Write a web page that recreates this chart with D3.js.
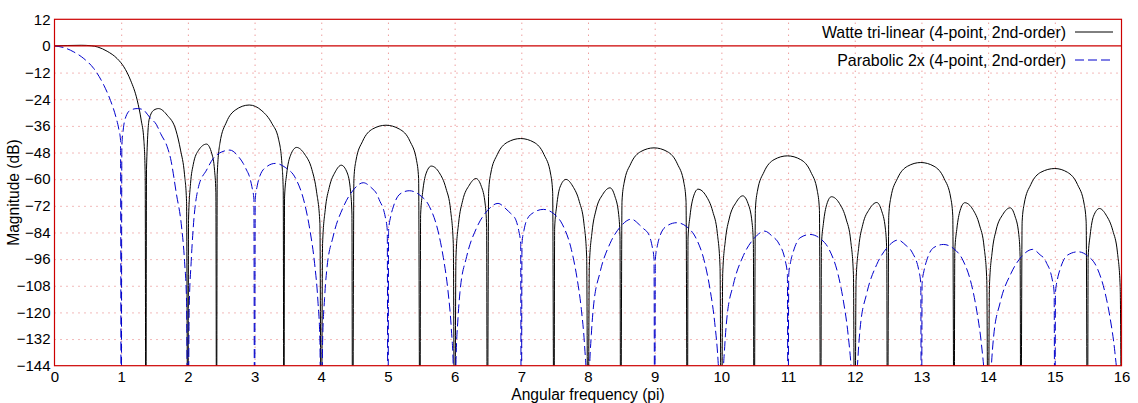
<!DOCTYPE html>
<html>
<head>
<meta charset="utf-8">
<script src="https://cdn.jsdelivr.net/npm/d3@7"></script>
<style>
  body { margin: 0; background: #fff; }
  svg { display: block; font-family: "Liberation Sans", Arial, sans-serif; }
</style>
</head>
<body>
<div id="chart"></div>
<script>
const xTicks = [0, 1, 2, 3, 4, 5, 6, 7, 8, 9, 10, 11, 12, 13, 14, 15, 16];
const yTicks = [12, 0, -12, -24, -36, -48, -60, -72, -84, -96, -108, -120, -132, -144];
const seriesNames = ["Watte tri-linear (4-point, 2nd-order)", "Parabolic 2x (4-point, 2nd-order)"];

// [angular frequency (pi), magnitude (dB)], -200 = null below the axis
const watte = [
  [0, 0], [0.2, 0.2], [0.4, 0.3], [0.55, 0.1], [0.65, -0.5], [0.79, -2.4], [0.94, -5.7], [1.04, -9.4],
  [1.14, -15.4], [1.24, -24.4], [1.3, -33.4], [1.34, -42.4], [1.36, -58], [1.37, -200],
  [1.38, -55], [1.42, -33], [1.49, -28.9], [1.56, -28.2], [1.69, -31.2], [1.82, -37.9], [1.89, -46.9], [1.95, -58], [1.98, -70], [2.0, -200],
  [2.01, -78], [2.04, -62], [2.08, -53.5], [2.16, -47], [2.28, -44.2], [2.36, -48.6], [2.4, -56], [2.42, -66], [2.43, -200],
  [2.44, -58], [2.48, -43.9], [2.58, -34.2], [2.71, -28.9], [2.92, -26.6], [3.11, -29.2], [3.26, -34.9], [3.36, -42], [3.41, -53], [3.43, -65], [3.44, -200],
  [3.45, -68], [3.48, -58], [3.54, -49.2], [3.63, -45.7], [3.75, -48.7], [3.86, -55.7], [3.93, -65.7], [3.98, -80], [4.0, -200],
  [4.02, -89], [4.06, -73.7], [4.12, -63.7], [4.21, -56.7], [4.3, -53.7], [4.39, -57.2], [4.44, -65.7], [4.46, -75.7], [4.47, -200],
  [4.49, -59.7], [4.52, -51.7], [4.62, -42.9], [4.77, -37.4], [4.97, -35.7], [5.17, -37.4], [5.33, -42.9], [5.43, -51.7], [5.46, -59.7], [5.48, -200],
  [5.49, -76], [5.52, -66], [5.57, -57.6], [5.65, -54.1], [5.77, -57.1], [5.87, -64.1], [5.94, -74.1], [5.98, -89], [6.0, -200],
  [6.02, -95], [6.06, -79.7], [6.12, -69.7], [6.22, -62.7], [6.32, -59.7], [6.4, -63.2], [6.46, -71.7], [6.48, -81.7], [6.49, -200],
  [6.51, -65.7], [6.54, -57.7], [6.64, -48.9], [6.79, -43.4], [6.99, -41.7], [7.19, -43.4], [7.34, -48.9], [7.44, -57.7], [7.47, -65.7], [7.49, -200],
  [7.5, -82], [7.53, -72.1], [7.58, -63.6], [7.67, -60.1], [7.77, -63.1], [7.87, -70.1], [7.94, -80.1], [7.98, -95], [8.0, -200],
  [8.02, -99], [8.06, -83.9], [8.12, -73.9], [8.22, -66.9], [8.33, -63.9], [8.4, -67.4], [8.46, -75.9], [8.48, -85.9], [8.49, -200],
  [8.51, -69.9], [8.54, -61.9], [8.64, -53.1], [8.79, -47.6], [8.99, -45.9], [9.19, -47.6], [9.34, -53.1], [9.44, -61.9], [9.47, -69.9], [9.49, -200],
  [9.5, -86.5], [9.53, -76.5], [9.58, -68], [9.65, -64.5], [9.77, -67.5], [9.87, -74.5], [9.94, -84.5], [9.98, -99.5], [10.0, -200],
  [10.02, -102.5], [10.06, -87.5], [10.12, -77.5], [10.22, -70.5], [10.32, -67.5], [10.4, -71], [10.46, -79.5], [10.48, -89.5], [10.49, -200],
  [10.51, -73.5], [10.54, -65.5], [10.64, -56.7], [10.79, -51.2], [10.99, -49.5], [11.19, -51.2], [11.34, -56.7], [11.44, -65.5], [11.47, -73.5], [11.49, -200],
  [11.5, -89.9], [11.53, -79.9], [11.58, -71.4], [11.65, -67.9], [11.77, -70.9], [11.87, -77.9], [11.94, -87.9], [11.98, -102.9], [12.0, -200],
  [12.02, -105.5], [12.06, -90.5], [12.12, -80.5], [12.22, -73.5], [12.33, -70.5], [12.4, -74], [12.46, -82.5], [12.48, -92.5], [12.49, -200],
  [12.51, -76.5], [12.54, -68.5], [12.64, -59.7], [12.79, -54.2], [12.99, -52.5], [13.19, -54.2], [13.34, -59.7], [13.44, -68.5], [13.47, -76.5], [13.49, -200],
  [13.5, -92.6], [13.53, -82.6], [13.58, -74.1], [13.65, -70.6], [13.77, -73.6], [13.87, -80.6], [13.94, -90.6], [13.98, -105.6], [14.0, -200],
  [14.02, -107.9], [14.06, -92.9], [14.12, -82.9], [14.22, -75.9], [14.33, -72.9], [14.4, -76.4], [14.46, -84.9], [14.48, -94.9], [14.49, -200],
  [14.51, -79.2], [14.54, -71.2], [14.64, -62.4], [14.79, -56.9], [15.0, -55.2], [15.19, -56.9], [15.34, -62.4], [15.44, -71.2], [15.47, -79.2], [15.49, -200],
  [15.5, -95.2], [15.53, -85.2], [15.58, -76.7], [15.67, -73.2], [15.77, -76.2], [15.87, -83.2], [15.94, -93.2], [15.98, -108.2], [16.0, -200]
];

const parabolic = [
  [0, 0], [0.14, -0.75], [0.29, -2.7], [0.44, -5.7], [0.59, -10.2], [0.74, -17.7], [0.84, -24.6], [0.92, -31.9], [0.967, -37.9], [0.99, -42.4], [1.0, -200],
  [1.01, -45], [1.03, -37.9], [1.07, -31.9], [1.14, -28.9], [1.24, -28.2], [1.32, -28.6], [1.44, -32.6], [1.53, -35.5], [1.59, -39.4], [1.69, -45.4], [1.74, -50.6], [1.83, -67], [1.9, -80], [1.95, -97], [1.98, -115], [2.0, -200],
  [2.02, -118], [2.05, -97], [2.08, -82], [2.16, -63.4], [2.28, -55.9], [2.38, -50.7], [2.51, -47.7], [2.63, -46.9], [2.76, -49.9], [2.83, -52.9], [2.88, -55.9], [2.92, -58.5], [2.96, -63.4], [2.99, -69], [3.0, -200],
  [3.01, -69], [3.04, -63], [3.08, -58.5], [3.18, -54.4], [3.31, -52.9], [3.46, -54.7], [3.62, -59.9], [3.75, -70.9], [3.83, -82.9], [3.9, -97.9], [3.95, -114.9], [3.98, -132.9], [4.0, -200],
  [4.02, -133.6], [4.05, -113.6], [4.08, -101.6], [4.18, -85.6], [4.33, -72.6], [4.48, -64.9], [4.63, -61.6], [4.76, -64.1], [4.83, -66.5], [4.88, -70], [4.92, -72.5], [4.96, -77], [4.99, -83], [5.0, -200],
  [5.01, -83], [5.04, -77], [5.08, -72.5], [5.18, -66.7], [5.32, -65.2], [5.47, -67], [5.62, -72.2], [5.75, -83.2], [5.83, -95.2], [5.9, -110.2], [5.95, -127.2], [5.98, -145.2], [6.0, -200],
  [6.02, -142.9], [6.05, -122.9], [6.08, -110.9], [6.18, -94.9], [6.33, -81.9], [6.49, -74.2], [6.65, -70.9], [6.77, -73.4], [6.84, -75.4], [6.88, -76.5], [6.92, -78.5], [6.96, -83], [6.99, -89], [7.0, -200],
  [7.01, -89], [7.04, -83], [7.08, -78.5], [7.18, -75.1], [7.33, -73.6], [7.48, -75.4], [7.62, -80.6], [7.75, -91.6], [7.83, -103.6], [7.9, -118.6], [7.95, -135.6], [7.98, -153.6], [8.0, -200],
  [8.02, -150], [8.05, -130], [8.08, -118], [8.18, -102], [8.33, -89], [8.49, -81.3], [8.65, -78], [8.77, -80.5], [8.84, -82.5], [8.88, -83.5], [8.92, -85.5], [8.96, -90], [8.99, -96], [9.0, -200],
  [9.01, -96], [9.04, -90], [9.08, -85.5], [9.18, -81.1], [9.33, -79.6], [9.48, -81.4], [9.62, -86.6], [9.75, -97.6], [9.83, -109.6], [9.9, -124.6], [9.95, -141.6], [9.98, -159.6], [10.0, -200],
  [10.02, -155.4], [10.05, -135.4], [10.08, -123.4], [10.18, -107.4], [10.33, -94.4], [10.49, -86.7], [10.65, -83.4], [10.77, -85.9], [10.84, -87.9], [10.88, -90], [10.92, -92.5], [10.96, -97], [10.99, -103], [11.0, -200],
  [11.01, -103], [11.04, -97], [11.08, -92.5], [11.18, -86.4], [11.33, -84.9], [11.48, -86.7], [11.62, -91.9], [11.75, -102.9], [11.83, -114.9], [11.9, -129.9], [11.95, -146.9], [11.98, -164.9], [12.0, -200],
  [12.02, -159.4], [12.05, -139.4], [12.08, -127.4], [12.18, -111.4], [12.33, -98.4], [12.49, -90.7], [12.65, -87.4], [12.77, -89.9], [12.84, -91.9], [12.88, -94], [12.92, -96.5], [12.96, -101], [12.99, -107], [13.0, -200],
  [13.01, -107], [13.04, -101], [13.08, -96.5], [13.18, -90.9], [13.33, -89.4], [13.48, -91.2], [13.62, -96.4], [13.75, -107.4], [13.83, -119.4], [13.9, -134.4], [13.95, -151.4], [13.98, -169.4], [14.0, -200],
  [14.02, -163.6], [14.05, -143.6], [14.08, -131.6], [14.18, -115.6], [14.34, -102.6], [14.5, -94.9], [14.67, -91.6], [14.78, -94.1], [14.85, -96.1], [14.88, -98], [14.92, -100.5], [14.96, -105], [14.99, -111], [15.0, -200],
  [15.01, -111], [15.04, -105], [15.08, -100.5], [15.19, -94.2], [15.35, -92.7], [15.49, -94.5], [15.63, -99.7], [15.75, -110.7], [15.83, -122.7], [15.9, -137.7], [15.95, -154.7], [15.98, -172.7], [16.0, -200]
];

const width = 1138;
const height = 403;
const margin = { top: 19.3, right: 16.5, bottom: 37.3, left: 54.5 };

const svg = d3
  .select("#chart")
  .append("svg")
  .attr("width", width)
  .attr("height", height);

const xScale = d3
  .scaleLinear()
  .domain([0, 16])
  .range([margin.left, width - margin.right]);

const yScale = d3
  .scaleLinear()
  .domain([-144, 12])
  .range([height - margin.bottom, margin.top]);

const plotW = width - margin.left - margin.right;
const plotH = height - margin.top - margin.bottom;

svg
  .append("clipPath")
  .attr("id", "plot-clip")
  .append("rect")
  .attr("x", margin.left)
  .attr("y", margin.top)
  .attr("width", plotW)
  .attr("height", plotH);

// dotted grid
svg
  .append("g")
  .attr("transform", `translate(0,${height - margin.bottom})`)
  .call(d3.axisBottom(xScale).tickValues(xTicks.slice(1, -1)).tickSize(-plotH).tickFormat(""))
  .call((g) => g.select(".domain").remove())
  .call((g) => g.selectAll(".tick line").attr("stroke", "#e57373").attr("stroke-dasharray", "1,5"));

svg
  .append("g")
  .attr("transform", `translate(${margin.left},0)`)
  .call(d3.axisLeft(yScale).tickValues(yTicks.filter((d) => d < 0 && d > -144)).tickSize(-plotW).tickFormat(""))
  .call((g) => g.select(".domain").remove())
  .call((g) => g.selectAll(".tick line").attr("stroke", "#e57373").attr("stroke-dasharray", "1,5"));

// tick labels
svg
  .append("g")
  .attr("transform", `translate(0,${height - margin.bottom})`)
  .call(d3.axisBottom(xScale).tickValues(xTicks).tickSize(0).tickPadding(6).tickFormat(d3.format("d")))
  .call((g) => g.select(".domain").remove())
  .call((g) => g.selectAll("text").attr("font-size", "15px").attr("font-family", "Liberation Sans, Arial, sans-serif").attr("fill", "#000"));

svg
  .append("g")
  .attr("transform", `translate(${margin.left - 4},0)`)
  .call(d3.axisLeft(yScale).tickValues(yTicks).tickSize(0).tickPadding(0).tickFormat(d3.format("d")))
  .call((g) => g.select(".domain").remove())
  .call((g) => g.selectAll("text").attr("font-size", "15px").attr("font-family", "Liberation Sans, Arial, sans-serif").attr("fill", "#000"));

// axis titles
svg
  .append("text")
  .attr("x", (margin.left + width - margin.right) / 2)
  .attr("y", 400)
  .attr("text-anchor", "middle")
  .attr("font-size", "15.6px")
  .text("Angular frequency (pi)");

svg
  .append("text")
  .attr("transform", "rotate(-90)")
  .attr("x", -(margin.top + height - margin.bottom) / 2)
  .attr("y", 19)
  .attr("text-anchor", "middle")
  .attr("font-size", "15.6px")
  .text("Magnitude (dB)");

// curves
const line = d3
  .line()
  .x((d) => xScale(d[0]))
  .y((d) => yScale(d[1]))
  .curve(d3.curveMonotoneX);

const curves = svg.append("g").attr("clip-path", "url(#plot-clip)");

curves
  .append("path")
  .datum(watte)
  .attr("fill", "none")
  .attr("stroke", "#000")
  .attr("stroke-width", 1)
  .attr("d", line);

curves
  .append("path")
  .datum(parabolic)
  .attr("fill", "none")
  .attr("stroke", "#0000cc")
  .attr("stroke-width", 1)
  .attr("stroke-dasharray", "9,4")
  .attr("d", line);

// 0 dB reference line and frame
svg
  .append("line")
  .attr("x1", margin.left)
  .attr("x2", width - margin.right)
  .attr("y1", yScale(0))
  .attr("y2", yScale(0))
  .attr("stroke", "#cc0000")
  .attr("stroke-width", 1.2);

svg
  .append("rect")
  .attr("x", margin.left)
  .attr("y", margin.top)
  .attr("width", plotW)
  .attr("height", plotH)
  .attr("fill", "none")
  .attr("stroke", "#cc0000")
  .attr("stroke-width", 1.2);

// legend
const legendY = [32, 60];
seriesNames.forEach((name, i) => {
  svg
    .append("text")
    .attr("x", 1066)
    .attr("y", legendY[i] + 5.5)
    .attr("text-anchor", "end")
    .attr("font-size", "15.9px")
    .text(name);
  svg
    .append("line")
    .attr("x1", 1075)
    .attr("x2", 1113)
    .attr("y1", legendY[i])
    .attr("y2", legendY[i])
    .attr("stroke", i === 0 ? "#000" : "#0000cc")
    .attr("stroke-width", 1)
    .attr("stroke-dasharray", i === 0 ? null : "9,4");
});
</script>
</body>
</html>
